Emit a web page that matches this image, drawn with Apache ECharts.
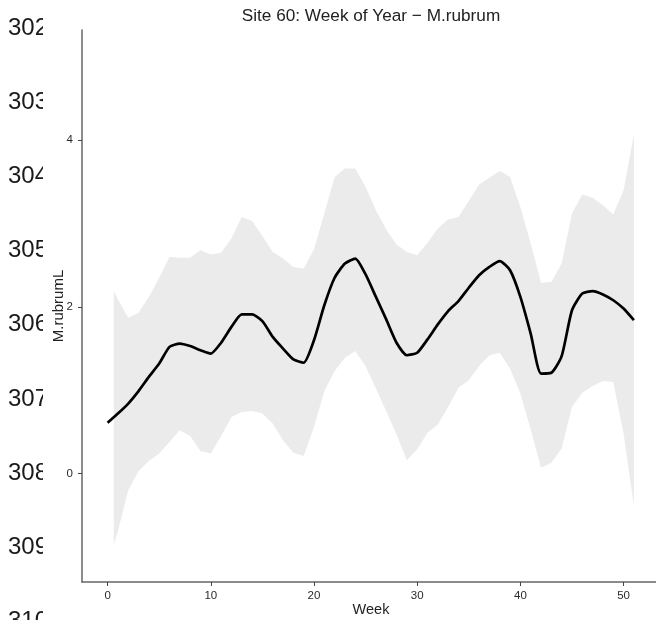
<!DOCTYPE html>
<html>
<head>
<meta charset="utf-8">
<script src="https://cdn.jsdelivr.net/npm/echarts@6/dist/echarts.min.js"></script>
<style>
  html, body { margin: 0; padding: 0; background: #fff; }
  #chart { width: 656px; height: 620px; }
</style>
</head>
<body>
<div id="chart"></div>
<script>
// Smoothed M.rubrum trend by week of year, site 60
const weeks = [0,1,2,3,4,5,6,7,8,9,10,11,12,13,14,15,16,17,18,19,20,21,22,23,24,25,
               26,27,28,29,30,31,32,33,34,35,36,37,38,39,40,41,42,43,44,45,46,47,48,49,50,51];
const fitted = [0.61,0.72,0.84,0.99,1.16,1.32,1.52,1.56,1.53,1.48,
                1.44,1.57,1.76,1.91,1.91,1.83,1.64,1.50,1.37,1.33,
                1.60,2.02,2.35,2.52,2.58,2.39,2.12,1.85,1.57,1.42,
                1.45,1.61,1.79,1.95,2.07,2.23,2.38,2.48,2.55,2.44,
                2.12,1.68,1.20,1.21,1.41,1.96,2.16,2.19,2.15,2.08,
                1.98,1.84];

// Confidence band
const bandWeeks = [0.6,1,2,3,4,5,6,7,8,9,10,11,12,13,14,15,16,17,18,19,20,21,22,23,24,25,
                   26,27,28,29,30,31,32,33,34,35,36,37,38,39,40,41,42,43,44,45,46,47,48,49,50,51];
const bandUpper = [2.19,2.09,1.87,1.93,2.12,2.35,2.60,2.59,2.59,2.68,2.63,2.65,2.82,3.08,3.03,2.85,2.66,2.58,2.48,2.46,
                   2.69,3.12,3.56,3.66,3.66,3.44,3.16,2.93,2.75,2.66,2.62,2.77,2.94,3.05,3.08,3.27,3.47,3.55,3.63,3.56,
                   3.20,2.76,2.29,2.30,2.52,3.12,3.35,3.31,3.22,3.11,3.40,4.07];
const bandLower = [-0.85,-0.69,-0.20,0.03,0.15,0.24,0.38,0.52,0.45,0.27,0.24,0.45,0.68,0.74,0.75,0.72,0.60,0.40,0.25,0.21,
                   0.56,0.99,1.23,1.39,1.47,1.29,1.02,0.75,0.47,0.16,0.29,0.49,0.59,0.80,1.03,1.12,1.29,1.42,1.45,1.26,
                   0.96,0.53,0.07,0.13,0.30,0.80,0.97,1.05,1.11,1.10,0.48,-0.39];

const xTicks = [0, 10, 20, 30, 40, 50];
const yTicks = [0, 2, 4];

const titleText = 'Site 60: Week of Year \u2212 M.rubrum';
const xName = 'Week';
const yName = 'M.rubrumL';

// Manuscript line numbers down the left margin
const lineNumbers = ['302','303','304','305','306','307','308','309','310'];

const chart = echarts.init(document.getElementById('chart'), null, { renderer: 'canvas' });

const FONT = '"Liberation Sans", Arial, sans-serif';

const marginText = lineNumbers.map((t, i) => ({
  type: 'text',
  x: 8,
  y: 28 + i * 74.2,
  z: 1,
  style: {
    text: t,
    font: '24px "Liberation Sans", Arial, sans-serif',
    fill: '#1a1a1a',
    verticalAlign: 'middle'
  }
}));

const option = {
  animation: false,
  backgroundColor: '#ffffff',
  title: {
    text: titleText,
    left: 371,
    top: 8,
    padding: 0,
    textAlign: 'center',
    textStyle: { fontFamily: FONT, fontSize: 17.2, fontWeight: 'normal', color: '#222' }
  },
  graphic: marginText.concat([{
    type: 'rect',
    shape: { x: 43, y: 0, width: 8, height: 620 },
    z: 2,
    style: { fill: '#ffffff' }
  }]),
  grid: { left: 82, top: 30, width: 578, height: 552, containLabel: false, outerBoundsMode: 'none' },
  xAxis: {
    type: 'value',
    min: -2.48,
    max: 53.53,
    name: xName,
    nameLocation: 'middle',
    nameGap: 20.5,
    nameMoveOverlap: false,
    nameTextStyle: { fontFamily: FONT, fontSize: 14.5, color: '#222' },
    axisLine: { show: true, onZero: false, lineStyle: { color: '#666', width: 1.5 } },
    axisTick: { show: true, length: 4, customValues: xTicks, lineStyle: { color: '#444', width: 1 } },
    axisLabel: { customValues: xTicks, margin: 8, fontFamily: FONT, fontSize: 11.5, color: '#2a2a2a' },
    splitLine: { show: false }
  },
  yAxis: {
    type: 'value',
    min: -1.302,
    max: 5.324,
    name: yName,
    nameLocation: 'middle',
    nameRotate: 90,
    nameGap: 16,
    nameMoveOverlap: false,
    nameTextStyle: { fontFamily: FONT, fontSize: 15, color: '#222' },
    axisLine: { show: true, onZero: false, lineStyle: { color: '#666', width: 1.5 } },
    axisTick: { show: true, length: 4, customValues: yTicks, lineStyle: { color: '#444', width: 1 } },
    axisLabel: { customValues: yTicks, margin: 9, fontFamily: FONT, fontSize: 11.5, color: '#2a2a2a' },
    splitLine: { show: false }
  },
  series: [
    {
      // grey ribbon drawn as one polygon through the axis scales
      type: 'custom',
      name: 'band',
      z: 1,
      data: bandWeeks.map((w, i) => [w, bandLower[i], bandUpper[i]]),
      encode: { x: 0, y: [1, 2] },
      renderItem: function (params, api) {
        if (params.dataIndex !== 0) return null;
        const pts = [];
        for (let i = 0; i < bandWeeks.length; i++) pts.push(api.coord([bandWeeks[i], bandUpper[i]]));
        for (let i = bandWeeks.length - 1; i >= 0; i--) pts.push(api.coord([bandWeeks[i], bandLower[i]]));
        return { type: 'polygon', shape: { points: pts }, style: { fill: '#ebebeb' } };
      }
    },
    {
      type: 'line',
      name: 'fit',
      z: 3,
      data: weeks.map((w, i) => [w, fitted[i]]),
      showSymbol: false,
      smooth: 0.2,
      lineStyle: { color: '#000', width: 2.7 }
    }
  ]
};

chart.setOption(option);
</script>
</body>
</html>
